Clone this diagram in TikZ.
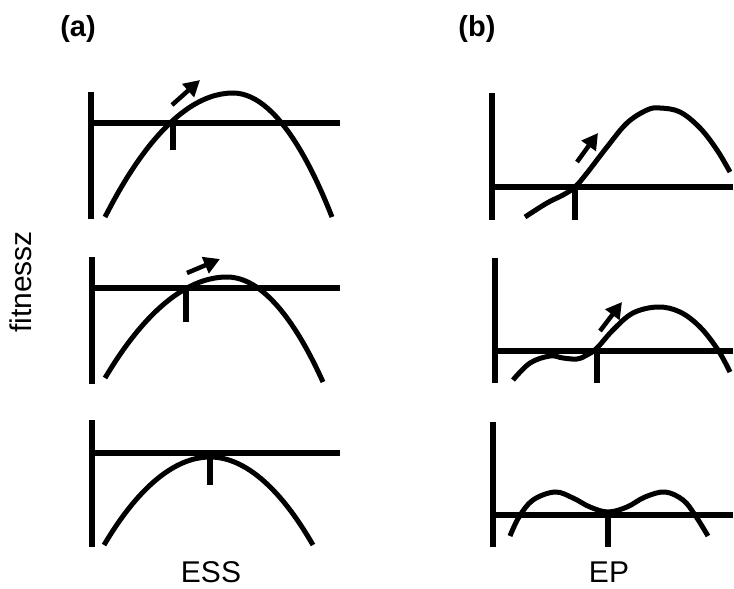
\documentclass[tikz,border=0pt]{standalone}
\usepackage{fontspec}
\setmainfont{Liberation Sans}
\usetikzlibrary{arrows.meta}
\begin{document}
\begin{tikzpicture}[x=1pt,y=-1pt,
  axis/.style={line width=6pt},
  curve/.style={line width=5pt},
  tick/.style={line width=6pt},
  movearrow/.style={line width=4.5pt,-{Triangle[length=16pt,width=17pt]}},
  lbl/.style={font=\fontsize{30}{32}\selectfont,inner sep=0pt},
  panel/.style={font=\bfseries\fontsize{29}{30}\selectfont}]
\useasboundingbox (0,0) rectangle (734,589);
% labels
\node[panel] (la) at (78,29) {(a)};
\node[panel] (lb) at (477,29) {(b)};
\node[lbl,rotate=90] (fit) at (21,282) {fitnessz};
\node[lbl,anchor=base] (ess) at (211,582) {ESS};
\node[lbl,anchor=base] (ep) at (609,582) {EP};
% ---- panel a1
\draw[axis] (91,92) -- (91,219);
\draw[axis] (91,123) -- (340,123);
\draw[tick] (173,123) -- (173,150);
\draw[curve] (105,217) parabola bend (233,93) (332,217);
\draw[movearrow] (172,105) -- (200,80);
% ---- panel a2
\draw[axis] (92,257) -- (92,384);
\draw[axis] (92,288) -- (340,288);
\draw[tick] (186,288) -- (186,322);
\draw[curve] (105,378) parabola bend (227,277) (323,382);
\draw[movearrow] (187,273) -- (220,259);
% ---- panel a3
\draw[axis] (92,420) -- (92,547);
\draw[axis] (92,453) -- (340,453);
\draw[tick] (210,453) -- (210,485);
\draw[curve] (104,545) parabola bend (210,457) (313,545);
% ---- panel b1
\draw[axis] (492,93) -- (492,220);
\draw[axis] (492,187) -- (733,187);
\draw[tick] (575,187) -- (575,220);
\draw[curve] plot[smooth,tension=0.6] coordinates {(525,217) (547,203) (563,195) (575,187) (587,173) (607,147) (627,123) (647,110) (660,108) (680,112) (700,128) (717,150) (730,172)};
\draw[movearrow] (577,162) -- (598,133);
% ---- panel b2
\draw[axis] (495,258) -- (495,383);
\draw[axis] (495,351) -- (733,351);
\draw[tick] (597,351) -- (597,383);
\draw[curve] plot[smooth,tension=0.6] coordinates {(513,380) (530,363) (550,356) (563,358) (577,359) (587,355) (597,348) (613,330) (633,313) (658,307) (680,312) (700,327) (718,350) (730,372)};
\draw[movearrow] (600,331) -- (622,302);
% ---- panel b3
\draw[axis] (493,422) -- (493,547);
\draw[axis] (493,515) -- (733,515);
\draw[tick] (608,515) -- (608,547);
\draw[curve] plot[smooth,tension=0.6] coordinates {(510,536) (519,517) (533,500) (555,492) (573,498) (590,507) (608,512) (627,507) (645,497) (665,492) (683,500) (695,515) (708,536)};
\end{tikzpicture}
\end{document}
